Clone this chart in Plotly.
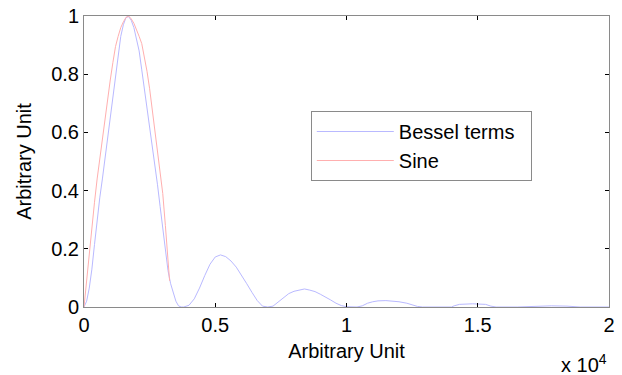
import plotly.graph_objects as go

# ---- data ----
bessel_x = [0, 100, 200, 300, 400, 500, 600, 700, 800, 900, 1000, 1100, 1200, 1300,
            1400, 1500, 1600, 1700, 1800, 1900, 2000, 2100, 2200, 2300, 2400, 2500,
            2600, 2700, 2800, 2900, 3000, 3100, 3200, 3300, 3400, 3500, 3600, 3700,
            3800, 3900, 4000, 4200, 4400, 4600, 4800, 5000, 5200, 5400, 5600, 5800,
            6000, 6200, 6400, 6600, 6800, 7000, 7200, 7400, 7600, 7800, 8000, 8200,
            8400, 8600, 8800, 9000, 9200, 9400, 9600, 9800, 10000, 10200, 10400,
            10600, 10800, 11000, 11200, 11500, 11800, 12000, 12300, 12500, 12700,
            12900, 13500, 14000, 14100, 14300, 14800, 15300, 15500, 15700, 16500,
            17200, 17800, 18400, 18900, 20000]
bessel_y = [0.0, 0.02, 0.065, 0.13, 0.215, 0.30, 0.375, 0.44, 0.51, 0.58, 0.65, 0.72,
            0.795, 0.87, 0.93, 0.97, 0.995, 0.998, 0.985, 0.96, 0.925, 0.88, 0.815,
            0.75, 0.69, 0.62, 0.56, 0.50, 0.42, 0.345, 0.265, 0.19, 0.125, 0.08,
            0.045, 0.02, 0.004, 0.0, 0.0, 0.002, 0.006, 0.028, 0.065, 0.108, 0.147,
            0.172, 0.179, 0.173, 0.158, 0.137, 0.11, 0.08, 0.05, 0.022, 0.003, 0.0,
            0.003, 0.018, 0.033, 0.046, 0.054, 0.059, 0.062, 0.058, 0.053, 0.044,
            0.035, 0.024, 0.013, 0.005, 0.001, 0.0, 0.0, 0.004, 0.013, 0.018, 0.021,
            0.022, 0.021, 0.018, 0.013, 0.007, 0.002, 0.0, 0.0, 0.0, 0.004, 0.009,
            0.011, 0.009, 0.003, 0.0, 0.0, 0.003, 0.004, 0.003, 0.0, 0.0]

sine_x = [0, 100, 200, 300, 400, 500, 600, 700, 800, 900, 1000, 1100, 1200, 1300,
          1400, 1500, 1600, 1700, 1800, 1900, 2000, 2100, 2200, 2300, 2400, 2500,
          2600, 2700, 2800, 2900, 3000, 3100, 3200, 3260]
sine_y = [0.0, 0.095, 0.185, 0.275, 0.36, 0.44, 0.51, 0.58, 0.65, 0.715, 0.78, 0.84,
          0.895, 0.93, 0.96, 0.98, 0.995, 1.0, 0.99, 0.975, 0.955, 0.93, 0.905, 0.86,
          0.81, 0.75, 0.68, 0.62, 0.55, 0.47, 0.39, 0.28, 0.15, 0.09]

series_names = ["Bessel terms", "Sine"]

x_tickvals = [0, 5000, 10000, 15000, 20000]
x_ticktext = ["0", "0.5", "1", "1.5", "2"]
y_tickvals = [0, 0.2, 0.4, 0.6, 0.8, 1]
y_ticktext = ["0", "0.2", "0.4", "0.6", "0.8", "1"]

FONT = "Liberation Sans, Arial, sans-serif"
FS = 20
PAD = "\u00a0\u00a0"  # widens the legend box to match the reference

fig = go.Figure()
fig.add_trace(go.Scatter(x=bessel_x, y=bessel_y, mode="lines", name=series_names[0] + PAD,
                         line=dict(color="rgb(185,185,255)", width=1)))
fig.add_trace(go.Scatter(x=sine_x, y=sine_y, mode="lines", name=series_names[1],
                         line=dict(color="rgb(255,175,175)", width=1)))

axis_common = dict(showline=True, linecolor="#8a8a8a", linewidth=1, mirror="ticks",
                   ticks="inside", ticklen=4, tickcolor="#000000", tickwidth=1,
                   showgrid=False, zeroline=False, automargin=False,
                   tickfont=dict(family=FONT, size=FS, color="#000"))

fig.update_xaxes(range=[0, 20000], tickvals=x_tickvals, ticktext=x_ticktext,
                 title=dict(text="Arbitrary Unit", font=dict(family=FONT, size=FS, color="#000"),
                            standoff=8),
                 **axis_common)
fig.update_yaxes(range=[0, 1], tickvals=y_tickvals, ticktext=y_ticktext,
                 title=dict(text="Arbitrary Unit", font=dict(family=FONT, size=FS, color="#000"),
                            standoff=14),
                 **axis_common)

fig.add_annotation(text="x 10<sup>4</sup>", xref="paper", yref="paper", x=1.0, y=-0.245,
                   xanchor="right", yanchor="bottom", showarrow=False,
                   font=dict(family=FONT, size=FS, color="#000"))

fig.update_layout(
    width=622, height=375,
    margin=dict(l=84, r=13, t=16, b=68),
    paper_bgcolor="white", plot_bgcolor="white",
    showlegend=True,
    legend=dict(x=0.432, y=0.6735, xanchor="left", yanchor="top",
                bgcolor="white", bordercolor="#8a8a8a", borderwidth=1,
                itemwidth=77,
                font=dict(family=FONT, size=FS, color="#000")),
)

fig.write_html("out.html")
